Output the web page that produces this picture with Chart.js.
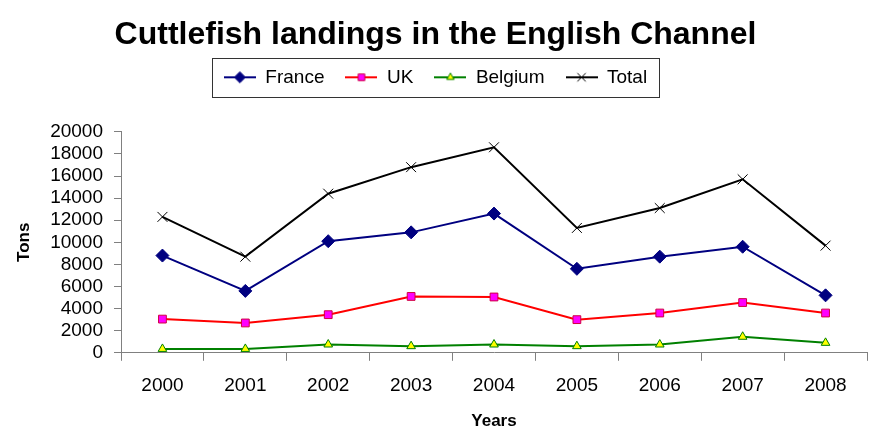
<!DOCTYPE html>
<html>
<head>
<meta charset="utf-8">
<script src="https://cdn.jsdelivr.net/npm/chart.js@4.4.1/dist/chart.umd.min.js"></script>
<style>
  html, body { margin: 0; padding: 0; background: #fff; }
  #wrap { width: 875px; height: 441px; }
</style>
</head>
<body>
<div id="wrap"><canvas id="chart" width="875" height="441"></canvas></div>
<script>
// values (tons)
const years = ['2000', '2001', '2002', '2003', '2004', '2005', '2006', '2007', '2008'];
const france = [8800, 5600, 10100, 10900, 12600, 7600, 8700, 9600, 5200];
const uk = [3050, 2700, 3450, 5100, 5050, 3000, 3600, 4550, 3600];
const belgium = [350, 350, 750, 600, 750, 600, 750, 1450, 900];
const total = [12300, 8700, 14400, 16800, 18600, 11300, 13100, 15700, 9700];
const yTickValues = [0, 2000, 4000, 6000, 8000, 10000, 12000, 14000, 16000, 18000, 20000];

const FONT = "'Liberation Sans', Arial, sans-serif";

function marker(ctx, style, r, x, y) {
    ctx.beginPath();
    if (style === 'rectRot') {
        ctx.moveTo(x, y - r); ctx.lineTo(x + r, y); ctx.lineTo(x, y + r); ctx.lineTo(x - r, y);
        ctx.closePath(); ctx.fill(); ctx.stroke();
    } else if (style === 'rect') {
        const s = r * Math.SQRT1_2;
        ctx.rect(x - s, y - s, 2 * s, 2 * s); ctx.fill(); ctx.stroke();
    } else if (style === 'triangle') {
        ctx.moveTo(x, y - r); ctx.lineTo(x + r * 0.87, y + r * 0.5); ctx.lineTo(x - r * 0.87, y + r * 0.5);
        ctx.closePath(); ctx.fill(); ctx.stroke();
    } else {
        const s = r * Math.SQRT1_2;
        ctx.moveTo(x - s, y - s); ctx.lineTo(x + s, y + s);
        ctx.moveTo(x + s, y - s); ctx.lineTo(x - s, y + s);
        ctx.stroke();
    }
}

function legendIcon(ds) {
    const c = document.createElement('canvas');
    c.width = 32; c.height = 16;
    const ctx = c.getContext('2d');
    ctx.strokeStyle = ds.borderColor;
    ctx.lineWidth = 2;
    ctx.beginPath(); ctx.moveTo(0, 8); ctx.lineTo(32, 8); ctx.stroke();
    ctx.fillStyle = ds.pointBackgroundColor;
    ctx.strokeStyle = ds.pointBorderColor;
    ctx.lineWidth = 1;
    marker(ctx, ds.pointStyle, ds.pointRadius * 0.85, 16, 8);
    return c;
}

const datasets = [
    { label: 'France', data: france, borderColor: '#000080', pointBackgroundColor: '#000080',
      pointBorderColor: '#000080', pointStyle: 'rectRot', pointRadius: 6.5 },
    { label: 'UK', data: uk, borderColor: '#FF0000', pointBackgroundColor: '#FF00FF',
      pointBorderColor: '#D00040', pointStyle: 'rect', pointRadius: 5.5 },
    { label: 'Belgium', data: belgium, borderColor: '#008000', pointBackgroundColor: '#FFFF00',
      pointBorderColor: '#008000', pointStyle: 'triangle', pointRadius: 5 },
    { label: 'Total', data: total, borderColor: '#000000', pointBackgroundColor: '#000000',
      pointBorderColor: '#000000', pointStyle: 'crossRot', pointRadius: 7 }
];
datasets.forEach(ds => {
    ds.borderWidth = 2;
    ds.pointBorderWidth = 1;
    ds.tension = 0;
    ds.fill = false;
    ds.pointHoverRadius = ds.pointRadius;
});
const icons = datasets.map(legendIcon);

const legendSpace = {
    id: 'legendSpace',
    beforeInit(chart) {
        const fit = chart.legend.fit;
        chart.legend.fit = function () {
            fit.bind(chart.legend)();
            this.height += 35;
        };
    }
};

const legendBorder = {
    id: 'legendBorder',
    afterDraw(chart) {
        const boxes = chart.legend.legendHitBoxes;
        if (!boxes || !boxes.length) return;
        const left = Math.min(...boxes.map(b => b.left)) - 12;
        const right = Math.max(...boxes.map(b => b.left + b.width)) + 12;
        const top = boxes[0].top - 10;
        const bottom = boxes[0].top + boxes[0].height + 10;
        const ctx = chart.ctx;
        ctx.save();
        ctx.strokeStyle = '#333';
        ctx.lineWidth = 1;
        ctx.strokeRect(Math.round(left) + 0.5, Math.round(top) + 0.5, Math.round(right - left), Math.round(bottom - top));
        ctx.restore();
    }
};

new Chart(document.getElementById('chart'), {
    type: 'line',
    data: { labels: years, datasets: datasets },
    options: {
        responsive: false,
        animation: false,
        devicePixelRatio: 1,
        layout: { padding: { left: 0, right: 4, top: 0, bottom: 0 } },
        plugins: {
            tooltip: { enabled: false },
            title: {
                display: true,
                text: 'Cuttlefish landings in the English Channel',
                color: '#000',
                font: { family: FONT, size: 32, weight: 'bold', lineHeight: 0.9 },
                padding: { top: 21, bottom: -3 }
            },
            legend: {
                display: true,
                position: 'top',
                labels: {
                    usePointStyle: true,
                    pointStyleWidth: 32,
                    color: '#000',
                    font: { family: FONT, size: 19 },
                    padding: 21,
                    generateLabels: chart => chart.data.datasets.map((ds, i) => ({
                        text: ds.label,
                        pointStyle: icons[i],
                        datasetIndex: i,
                        hidden: false,
                        fillStyle: ds.borderColor,
                        strokeStyle: ds.borderColor,
                        lineWidth: 0,
                        fontColor: '#000'
                    }))
                }
            }
        },
        scales: {
            x: {
                offset: true,
                grid: { display: true, offset: true, drawOnChartArea: false, drawTicks: true, tickLength: 8, color: '#808080' },
                border: { display: true, color: '#808080', width: 1 },
                ticks: { color: '#000', font: { family: FONT, size: 19 }, padding: 14, maxRotation: 0 },
                title: {
                    display: true, text: 'Years', color: '#000',
                    font: { family: FONT, size: 17, weight: 'bold' },
                    padding: { top: 0, bottom: 9 }
                }
            },
            y: {
                min: yTickValues[0],
                max: yTickValues[yTickValues.length - 1],
                afterFit(scale) { scale.width = 121; },
                afterBuildTicks(scale) { scale.ticks = yTickValues.map(v => ({ value: v })); },
                grid: { display: true, drawOnChartArea: false, drawTicks: true, tickLength: 7, color: '#808080' },
                border: { display: true, color: '#808080', width: 1 },
                ticks: { autoSkip: false, color: '#000', font: { family: FONT, size: 19 }, padding: 11,
                         callback: v => String(v) },
                title: {
                    display: true, text: 'Tons', color: '#000',
                    font: { family: FONT, size: 17, weight: 'bold' },
                    padding: { top: 14, bottom: 0 }
                }
            }
        }
    },
    plugins: [legendSpace, legendBorder]
});
</script>
</body>
</html>
